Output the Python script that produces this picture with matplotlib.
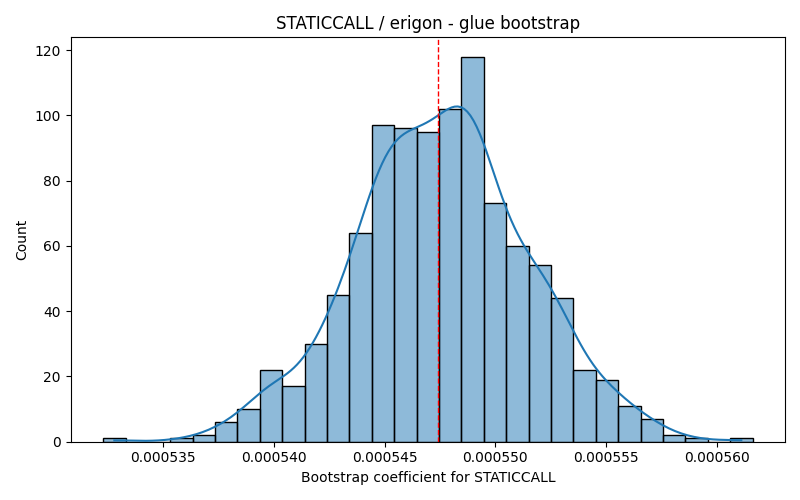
import numpy as np
import pandas as pd
import matplotlib
matplotlib.use("Agg")
import matplotlib.pyplot as plt
import seaborn as sns

# Histogram: 29 equal bins between x_min and x_max
x_min = 0.0005323
x_max = 0.0005616
counts = [1, 0, 0, 1, 2, 6, 10, 22, 17, 30, 45, 64, 97, 96, 95,
          102, 118, 73, 60, 54, 44, 22, 19, 11, 7, 2, 1, 0, 1]
point_estimate = 0.0005474

title = "STATICCALL / erigon - glue bootstrap"
xlabel = "Bootstrap coefficient for STATICCALL"
ylabel = "Count"

edges = np.linspace(x_min, x_max, len(counts) + 1)
centers = (edges[:-1] + edges[1:]) / 2
samples = np.repeat(centers, counts)

fig, ax = plt.subplots(figsize=(8, 5), dpi=100)
sns.histplot(samples, bins=edges, kde=True, ax=ax)
ax.axvline(point_estimate, color="red", linestyle="--", linewidth=1)
ax.set_title(title)
ax.set_xlabel(xlabel)
ax.set_ylabel(ylabel)
fig.tight_layout()
fig.savefig("out.png", dpi=100)
